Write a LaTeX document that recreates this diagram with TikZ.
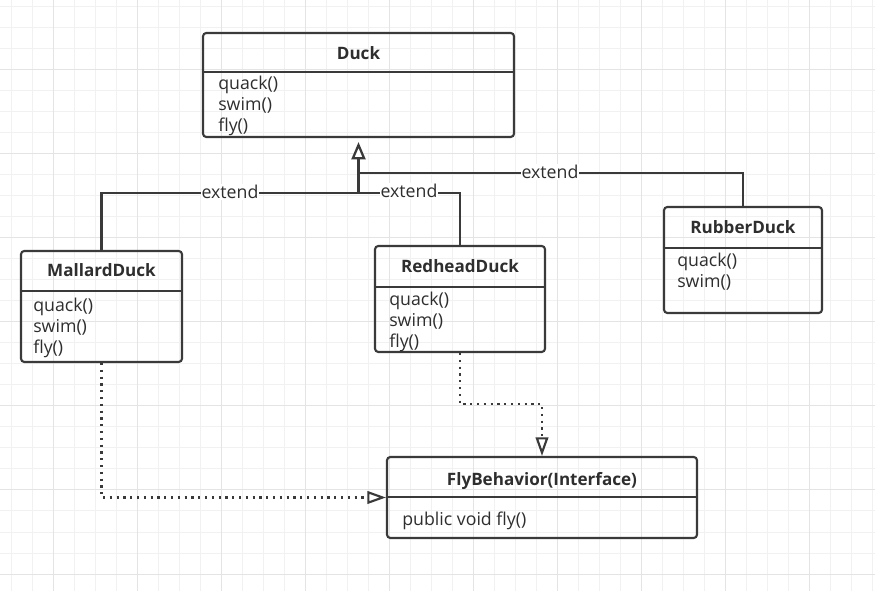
\documentclass[tikz,border=0pt]{standalone}
\usepackage{fontspec}
\setmainfont{Open Sans}
\usetikzlibrary{arrows.meta,fit}
\definecolor{ln}{HTML}{3A3A3A}
\definecolor{tx}{HTML}{2E2E2E}
\definecolor{gminor}{HTML}{F1F1F1}
\definecolor{gmajor}{HTML}{E4E4E4}
\tikzset{
  classbox/.style={draw=ln, line width=1.6pt, rounded corners=2.5pt, inner sep=0pt},
  sepline/.style={draw=ln, line width=1.6pt},
  mem/.style={anchor=base west, inner sep=0pt, text=tx, font=\fontsize{13.3}{15}\selectfont},
  ttl/.style={anchor=base, inner sep=0pt, text=tx, font=\fontsize{12.8}{15}\selectfont\bfseries},
  lbl/.style={anchor=base, inner sep=0.8pt, fill=white, text=tx, font=\fontsize{13.3}{15}\selectfont},
  ext/.style={draw=ln, line width=1.6pt},
  exttip/.style={draw=ln, line width=2.1pt, -{Triangle[open, length=13pt, width=10.5pt, fill=white, line width=1.7pt]}},
  dep/.style={draw=ln, line width=1.7pt, dash pattern=on 1.6pt off 3.5pt,
     -{Triangle[open, length=14pt, width=9.5pt, fill=white, line width=1.6pt]}},
}
\begin{document}
\begin{tikzpicture}[x=0.75pt, y=-0.75pt]
\useasboundingbox (0,0) rectangle (875,591);
\fill[white] (0,0) rectangle (875,591);
% grid
\foreach \i in {0,...,41} \draw[gminor, line width=0.75pt] (11+21*\i,0) -- (11+21*\i,591);
\foreach \i in {0,...,27} \draw[gminor, line width=0.75pt] (0,7+21*\i) -- (875,7+21*\i);
\foreach \i in {0,...,9} \draw[gmajor, line width=0.75pt] (53+84*\i,0) -- (53+84*\i,591);
\foreach \i in {0,...,6} \draw[gmajor, line width=0.75pt] (0,70+84*\i) -- (875,70+84*\i);

% classes
\node[classbox, fit={(203,33) (514,137)}] (duck) {};
\draw[sepline] (duck.west |- 0,72) -- (duck.east |- 0,72);
\node[ttl] (duckT) at (358.5,60) {Duck};
\node[mem] (duck1) at (218,90) {quack()};
\node[mem] (duck2) at (218,111) {swim()};
\node[mem] (duck3) at (218,132) {fly()};

\node[classbox, fit={(21,251) (182,362)}] (mallard) {};
\draw[sepline] (mallard.west |- 0,291) -- (mallard.east |- 0,291);
\node[ttl] (mallardT) at (101.5,277) {MallardDuck};
\node[mem] (mallard1) at (33,312) {quack()};
\node[mem] (mallard2) at (33,333) {swim()};
\node[mem] (mallard3) at (33,354) {fly()};

\node[classbox, fit={(375,246) (545,352)}] (redhead) {};
\draw[sepline] (redhead.west |- 0,287) -- (redhead.east |- 0,287);
\node[ttl] (redheadT) at (460,273) {RedheadDuck};
\node[mem] (redhead1) at (389,306) {quack()};
\node[mem] (redhead2) at (389,327) {swim()};
\node[mem] (redhead3) at (389,348) {fly()};

\node[classbox, fit={(664,207) (822,313)}] (rubber) {};
\draw[sepline] (rubber.west |- 0,248) -- (rubber.east |- 0,248);
\node[ttl] (rubberT) at (743,234) {RubberDuck};
\node[mem] (rubber1) at (677,267) {quack()};
\node[mem] (rubber2) at (677,288) {swim()};

\node[classbox, fit={(387,457) (697,538)}] (flyb) {};
\draw[sepline] (flyb.west |- 0,497) -- (flyb.east |- 0,497);
\node[ttl] (flybT) at (542,486) {FlyBehavior(Interface)};
\node[mem] (flyb1) at (402,525) {public void fly()};

% inheritance
\coordinate (j1) at (358.5,193);
\coordinate (j2) at (358.5,173);
\draw[ext] (mallard.north) |- (j1);
\draw[ext] (redhead.north) |- (j1);
\draw[ext] (rubber.north) |- (j2);
\draw[exttip] (j1) -- ([yshift=-3]duck.south);
\node[lbl] (e1) at (230,199) {extend};
\node[lbl] (e2) at (409,198) {extend};
\node[lbl] (e3) at (550,179) {extend};

% dependencies
\coordinate (k1) at (mallard.south |- flyb.west);
\coordinate (k2) at (redhead.south |- 0,404);
\draw[dep] (mallard.south) -- (k1) -- (flyb.west);
\draw[dep] (redhead.south) -- (k2) -| (flyb.north);
\end{tikzpicture}
\end{document}
